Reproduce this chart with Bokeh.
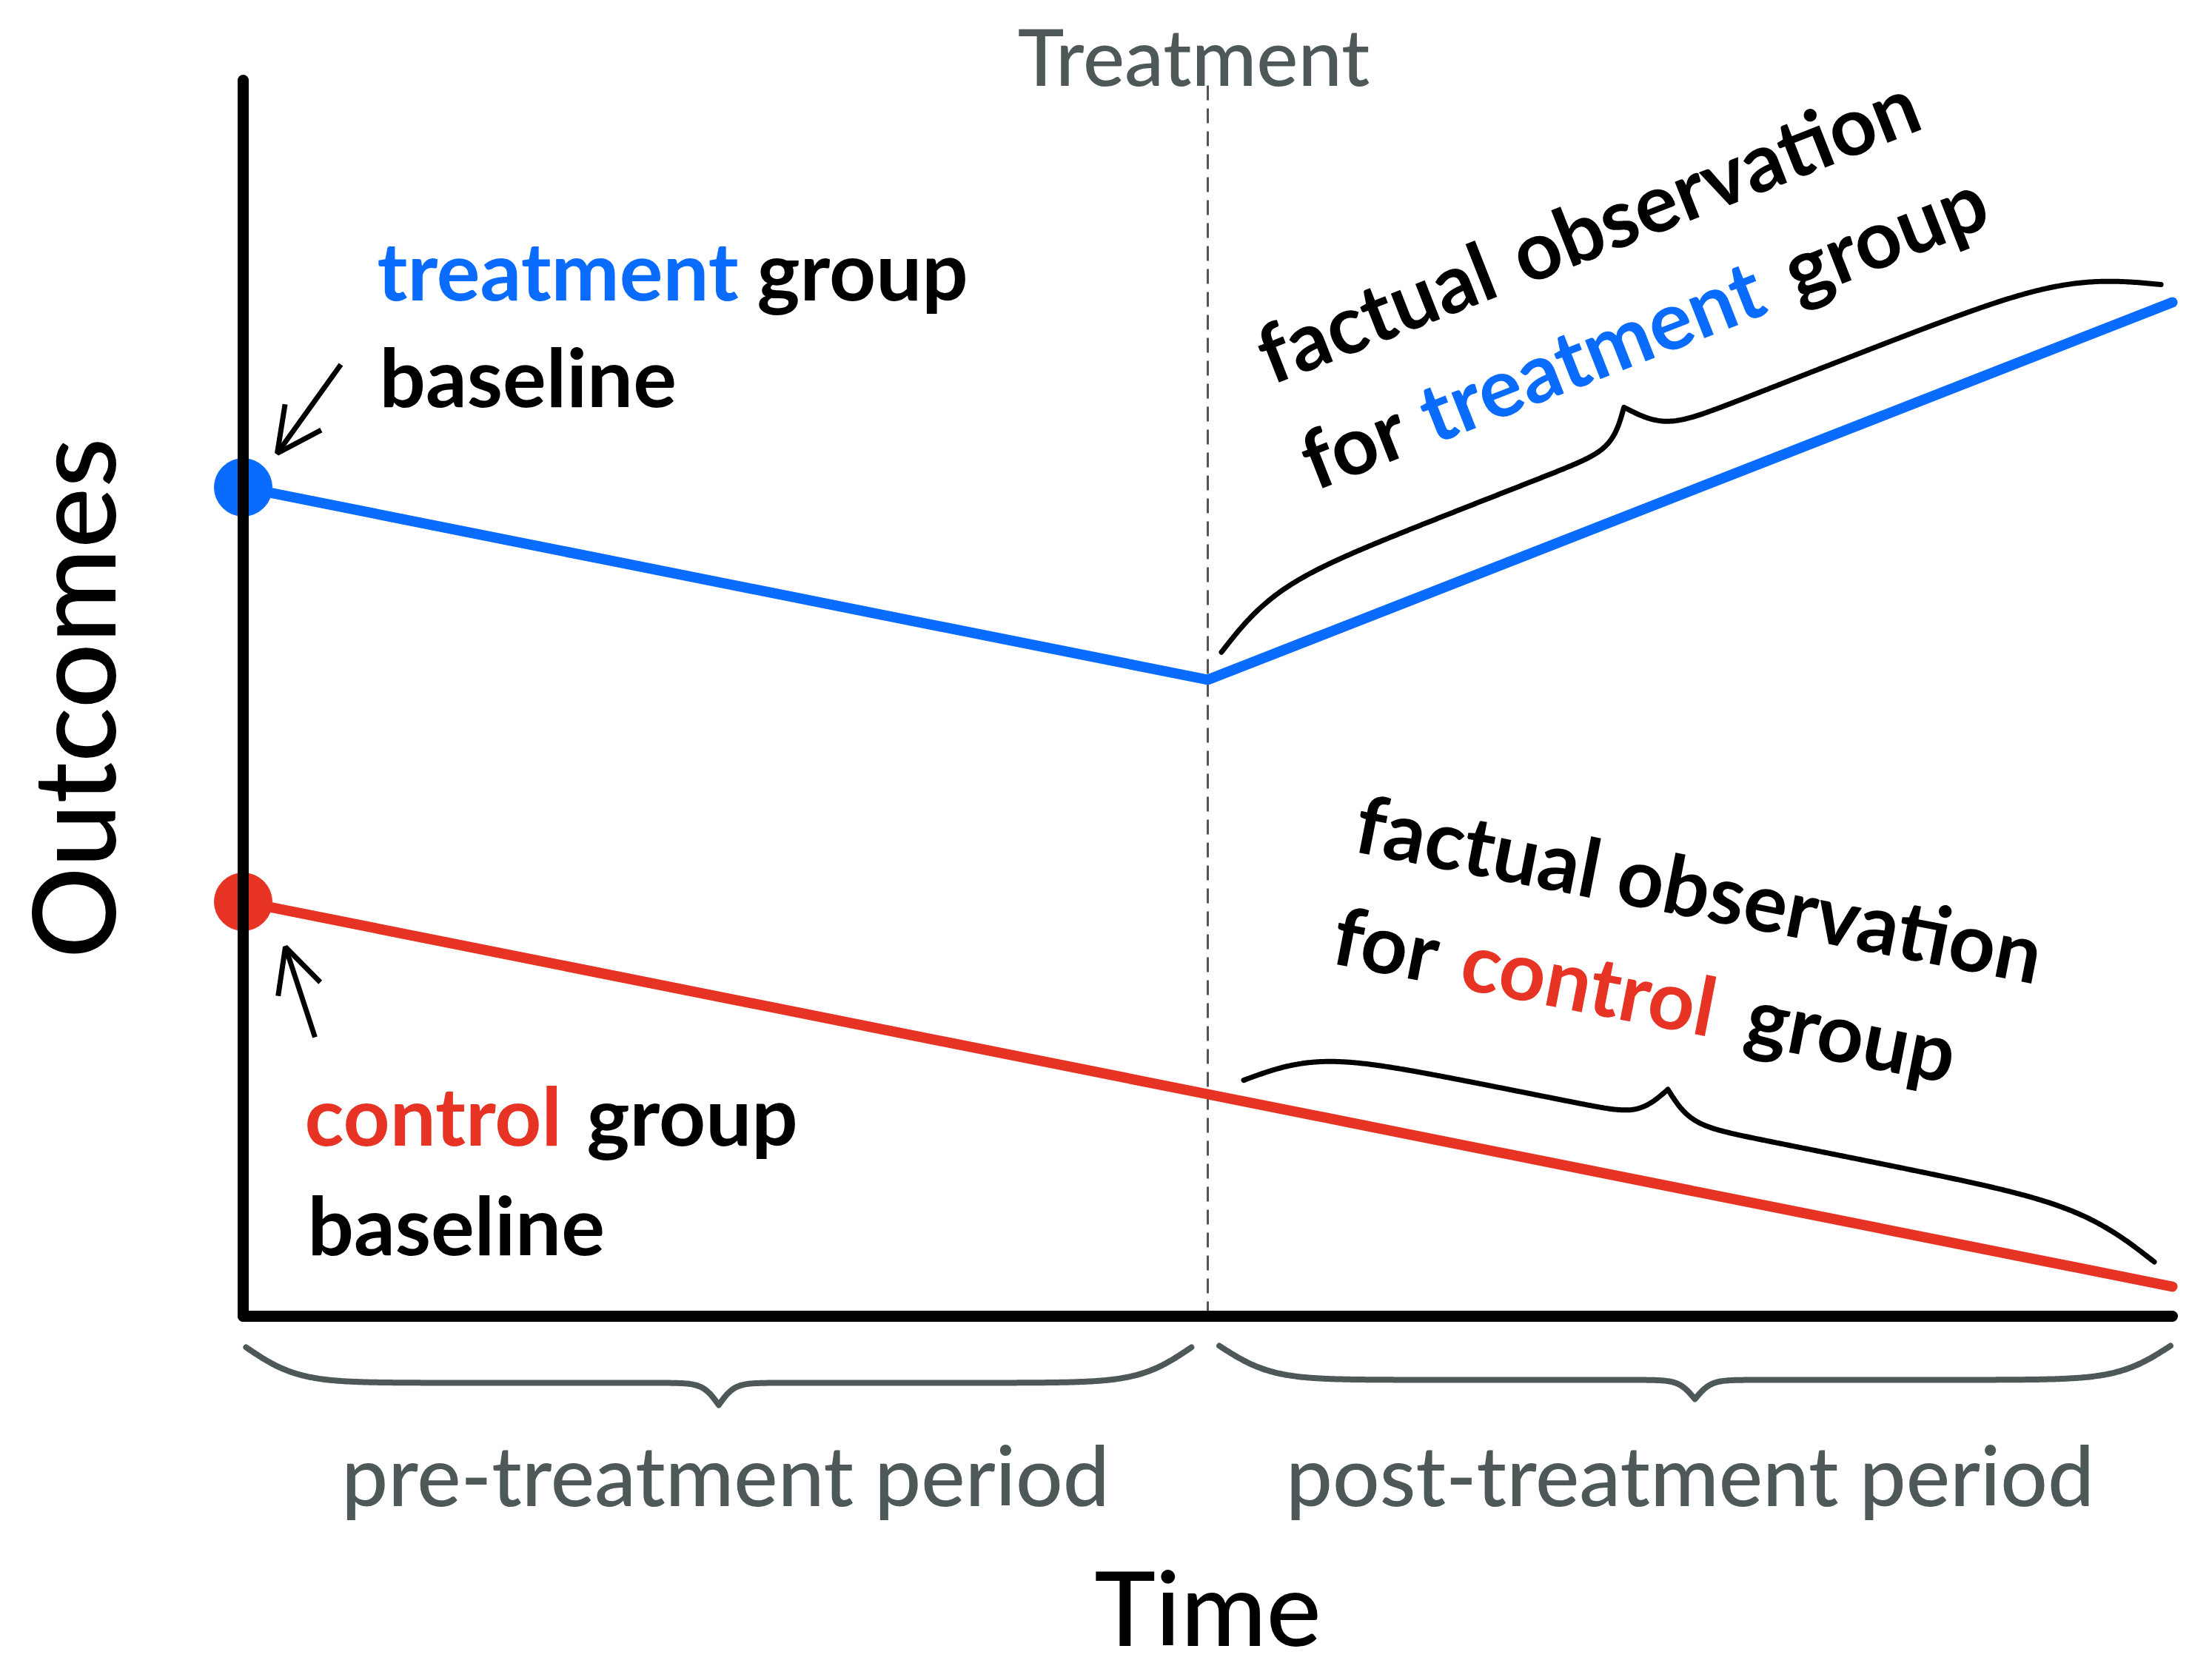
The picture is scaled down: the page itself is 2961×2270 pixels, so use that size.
import numpy as np
from bokeh.plotting import figure
from bokeh.models import Range1d, FixedTicker, Arrow, OpenHead
from bokeh.core.properties import value
from bokeh.embed import file_html
from bokeh.resources import INLINE

# ---------------- data ----------------
time = [0, 1, 2]
treatment_outcome = [11.2, 8.6, 13.7]
control_outcome = [5.6, 3.0, 0.4]
treatment_time = 1
period_ticks = [0.5, 1.5]
period_labels = ["pre-treatment period", "post-treatment period"]
axis_top = 16.7

BLUE = "#0a6cff"
RED = "#e63323"
GRAY = "#4e5858"
FONT = "Lato"
FONT_MED = "Lato Medium, Lato"

# ---------------- layout helpers ----------------
W, H = 2944, 2256
PAD = 8
X0, Y0 = 336 - PAD, 1786 - PAD      # canvas px of the origin
XS, YS = 1303.0, 100.0              # px per data unit
BASE_FIX = 34                        # baseline correction of text glyphs (px)


def to_px(t, v):
    return X0 + np.asarray(t, float) * XS, Y0 - np.asarray(v, float) * YS


def to_data(px, py):
    return (np.asarray(px, float) - X0) / XS, (Y0 - np.asarray(py, float)) / YS


def ref(px, py):
    return to_data(px - PAD, py - PAD)


p = figure(width=W, height=H, output_backend="svg", toolbar_location=None,
           x_range=Range1d(-X0 / XS, (W - X0) / XS),
           y_range=Range1d(-(H - Y0) / YS, Y0 / YS),
           min_border=0, tools="")
p.outline_line_color = None
p.grid.visible = False
p.background_fill_color = "white"
p.border_fill_color = "white"

# ---------------- axes ----------------
xa = p.xaxis[0]
xa.fixed_location = 0
xa.bounds = (0, 2)
xa.ticker = FixedTicker(ticks=period_ticks)
xa.major_label_overrides = {t: l for t, l in zip(period_ticks, period_labels)}
xa.major_tick_line_color = None
xa.minor_tick_line_color = None
xa.major_tick_out = 0
xa.major_tick_in = 0
xa.axis_line_width = 15
xa.axis_line_color = "black"
xa.axis_line_cap = "round"
xa.major_label_text_font = FONT_MED
xa.major_label_text_font_size = "112px"
xa.major_label_text_color = GRAY
xa.major_label_standoff = 145
xa.axis_label = "Time"
xa.axis_label_text_font = FONT_MED
xa.axis_label_text_font_size = "140px"
xa.axis_label_text_font_style = "normal"
xa.axis_label_text_color = "black"
xa.axis_label_standoff = 24

ya = p.yaxis[0]
ya.fixed_location = 0
ya.bounds = (0, axis_top)
ya.ticker = FixedTicker(ticks=[])
ya.major_tick_line_color = None
ya.minor_tick_line_color = None
ya.major_tick_out = 0
ya.major_tick_in = 0
ya.axis_line_width = 15
ya.axis_line_color = "black"
ya.axis_line_cap = "round"
ya.axis_label = "Outcomes"
ya.axis_label_text_font = FONT_MED
ya.axis_label_text_font_size = "155px"
ya.axis_label_text_font_style = "normal"
ya.axis_label_text_color = "black"
ya.axis_label_standoff = 140

# ---------------- treatment marker ----------------
p.line([treatment_time, treatment_time], [0, axis_top], line_color=GRAY,
       line_width=3, line_dash="20 11")
tx = treatment_time - 19 / XS
ty = to_data(0, 116 - PAD - BASE_FIX)[1]
p.text(x=[tx], y=[ty], text=["Treatment"], text_font=value(FONT_MED),
       text_font_size="106px", text_color=GRAY, text_align="center",
       text_baseline="alphabetic")

# ---------------- series ----------------
p.line(time, treatment_outcome, line_color=BLUE, line_width=14, line_cap="round",
       line_join="round")
p.line(time, control_outcome, line_color=RED, line_width=14, line_cap="round",
       line_join="round")
p.scatter([time[0]], [treatment_outcome[0]], size=78, color=BLUE)
p.scatter([time[0]], [control_outcome[0]], size=78, color=RED)


# ---------------- braces ----------------
def brace_px(p0, p1, end_off, body_off, cusp_off, cusp_frac, b_end, b_cusp,
             side=1, n=300):
    p0 = np.asarray(p0, float)
    p1 = np.asarray(p1, float)
    d = p1 - p0
    L = float(np.hypot(*d))
    u = d / L
    nv = np.array([u[1], -u[0]]) * side
    c = cusp_frac * L
    s = np.concatenate([np.linspace(0, c, n), np.linspace(c, L, n)[1:]])
    xl = np.where(s <= c, s / c, (L - s) / (L - c))
    g1 = 2.0 / (1.0 + np.exp(-b_end * xl)) - 1.0
    g2 = 2.0 / (1.0 + np.exp(-b_cusp * (xl - 1.0)))
    off = end_off + (body_off - end_off) * g1 + (cusp_off - body_off) * g2
    pts = p0[None, :] + s[:, None] * u[None, :] + off[:, None] * nv[None, :]
    return pts[:, 0], pts[:, 1]


def series_brace(t0, t1, values, color, width, **kw):
    a = to_px(t0, np.interp(t0, time, values))
    b = to_px(t1, np.interp(t1, time, values))
    bx, by = brace_px(a, b, **kw)
    dx, dy = to_data(bx, by)
    p.line(dx, dy, line_color=color, line_width=width, line_cap="round",
           line_join="round")


series_brace(1.022, 1.996, treatment_outcome, "black", 7, end_off=28, body_off=90,
             cusp_off=138, cusp_frac=0.46, b_end=12, b_cusp=35, side=1)
series_brace(1.033, 1.977, control_outcome, "black", 7, end_off=28, body_off=86,
             cusp_off=128, cusp_frac=0.45, b_end=12, b_cusp=35, side=1)
zero = [0, 0, 0]
series_brace(0.003, 0.983, zero, GRAY, 8, end_off=42, body_off=90, cusp_off=120,
             cusp_frac=0.5, b_end=18, b_cusp=60, side=-1)
series_brace(1.012, 1.998, zero, GRAY, 8, end_off=40, body_off=86, cusp_off=112,
             cusp_frac=0.5, b_end=18, b_cusp=60, side=-1)

# ---------------- arrows to the baselines ----------------
for vals, tip_off, tail_off in [(treatment_outcome, (46, -46), (132, -166)),
                                (control_outcome, (57, 61), (97, 183))]:
    cx, cy = to_px(time[0], vals[0])
    xe, ye = to_data(cx + tip_off[0], cy + tip_off[1])
    xs_, ys_ = to_data(cx + tail_off[0], cy + tail_off[1])
    p.add_layout(Arrow(end=OpenHead(size=60, line_width=7, line_color="black"),
                       x_start=float(xs_), y_start=float(ys_),
                       x_end=float(xe), y_end=float(ye),
                       line_width=7, line_color="black"))


# ---------------- annotation texts ----------------
def put_words(items, color, angle=0.0, size="110px"):
    a = np.deg2rad(angle)
    dxn, dyn = np.sin(a), np.cos(a)          # local "down" direction on screen
    xs, ys, ts = [], [], []
    for t, (px, py) in items:
        x, y = ref(px - BASE_FIX * dxn, py - BASE_FIX * dyn)
        xs.append(float(x))
        ys.append(float(y))
        ts.append(t)
    p.text(x=xs, y=ys, text=ts, angle=angle, angle_units="deg",
           text_color=color, text_font=value(FONT), text_font_size=size,
           text_font_style="bold", text_align="left", text_baseline="alphabetic")


def along(start, dist, ang):
    a = np.deg2rad(ang)
    return (start[0] + dist * np.cos(a), start[1] - dist * np.sin(a))


# baselines (horizontal)
put_words([("treatment", (517, 404))], BLUE)
put_words([("group", (1030, 404)), ("baseline", (520, 548)),
           ("group", (800, 1546)), ("baseline", (423, 1694))], "black")
put_words([("control", (419, 1546))], RED)

# upper rotated annotation
A1 = 21.5
l1, l2 = (1722, 520), (1781, 663)
put_words([("factual", l1), ("observation", along(l1, 368, A1)), ("for", l2),
           ("group", along(l2, 700, A1))], "black", A1)
put_words([("treatment", along(l2, 172, A1))], BLUE, A1)

# lower rotated annotation
A2 = -11.0
m1, m2 = (1835, 1149), (1805, 1300)
put_words([("factual", m1), ("observation", along(m1, 360, A2)), ("for", m2),
           ("group", along(m2, 568, A2))], "black", A2)
put_words([("control", along(m2, 176, A2))], RED, A2)

open("out.html", "w").write(file_html(p, INLINE))
